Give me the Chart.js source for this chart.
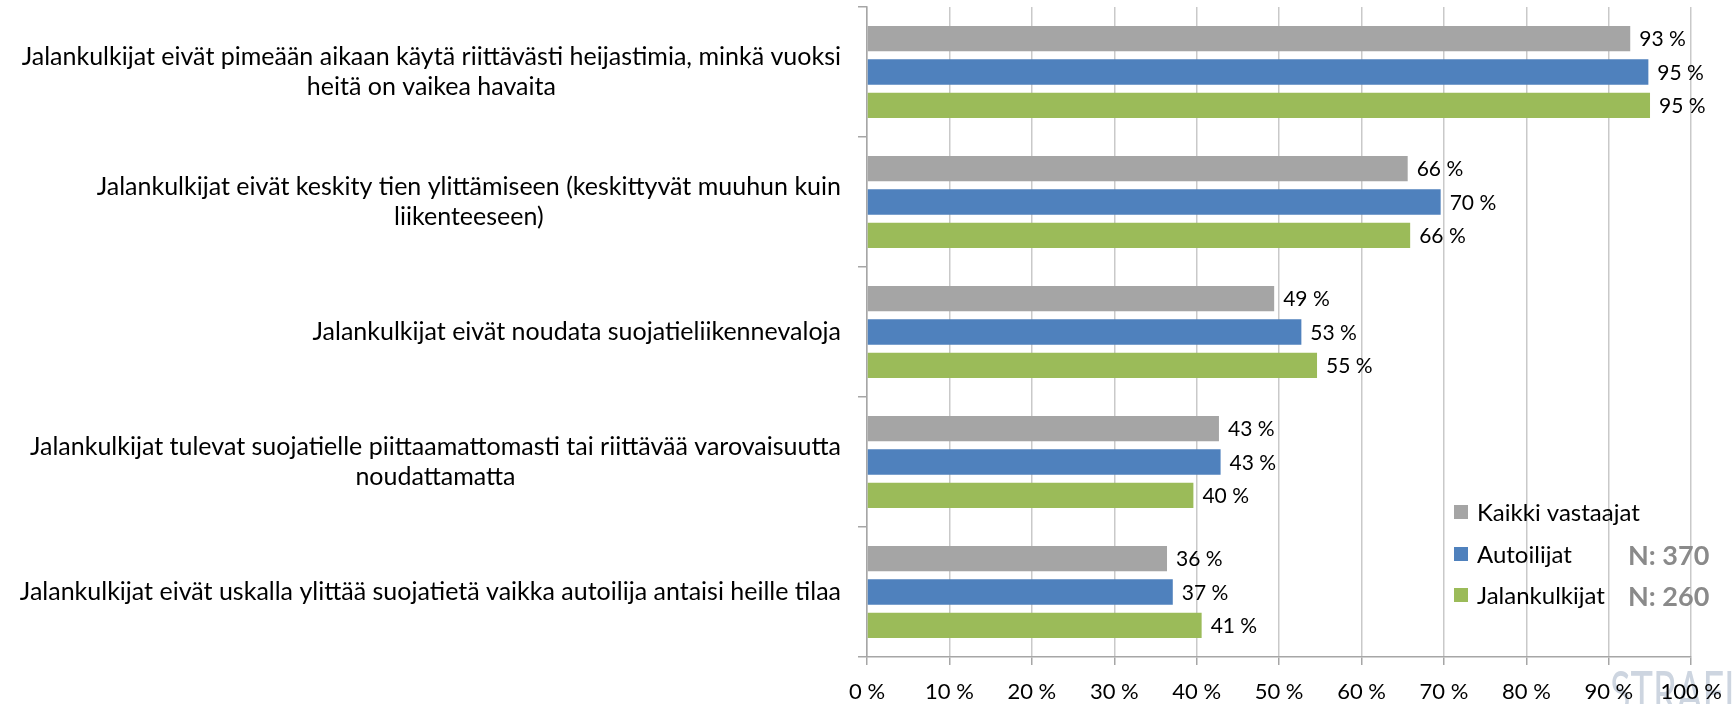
<!DOCTYPE html>
<html><head><meta charset="utf-8">
<script src="https://cdn.jsdelivr.net/npm/chart.js@4.4.1/dist/chart.umd.min.js"></script>
<style>html,body{margin:0;padding:0;background:#fff;}#wrap{width:1736px;height:704px;position:relative}</style>
</head><body><div id="wrap"><canvas id="c" width="1736" height="704"></canvas></div>
<script>
const categories = [
  ["Jalankulkijat eivät pimeään aikaan käytä riittävästi heijastimia, minkä vuoksi", "heitä on vaikea havaita"],
  ["Jalankulkijat eivät keskity tien ylittämiseen (keskittyvät muuhun kuin", "liikenteeseen)"],
  ["Jalankulkijat eivät noudata suojatieliikennevaloja"],
  ["Jalankulkijat tulevat suojatielle piittaamattomasti tai riittävää varovaisuutta", "noudattamatta"],
  ["Jalankulkijat eivät uskalla ylittää suojatietä vaikka autoilija antaisi heille tilaa"]
];
const seriesNames = ["Kaikki vastaajat", "Autoilijat", "Jalankulkijat"];
const kaikkiVastaajat = [92.6, 65.6, 49.4, 42.7, 36.4];
const autoilijat = [94.8, 69.6, 52.7, 42.9, 37.1];
const jalankulkijat = [95.0, 65.9, 54.6, 39.6, 40.6];
const sampleSizes = ["", "N: 370", "N: 260"];
const xTickValues = [0, 10, 20, 30, 40, 50, 60, 70, 80, 90, 100];
const watermarkText = "STRAFIC";

const colors = ["#a5a5a5", "#4f81bd", "#9bbb59"];
const FONT = "Lato, 'Open Sans', sans-serif";

const labelPlugin = {
  id: 'customText',
  beforeDraw(chart) {
    const ctx = chart.ctx;
    ctx.save();
    ctx.fillStyle = '#fff';
    ctx.fillRect(0, 0, chart.width, chart.height);
    ctx.font = '58px ' + FONT;
    ctx.fillStyle = '#cdd5e0';
    ctx.textAlign = 'left';
    ctx.textBaseline = 'alphabetic';
    const w = ctx.measureText(watermarkText).width;
    const sx = 150 / w;
    ctx.translate(1610, 713);
    ctx.scale(sx, 1);
    ctx.fillText(watermarkText, 0, 0);
    ctx.restore();
  },
  afterDraw(chart) {
    const ctx = chart.ctx;
    const ys = chart.scales.y;
    ctx.save();
    // category labels
    ctx.font = '25px ' + FONT;
    ctx.fillStyle = '#000';
    ctx.textAlign = 'center';
    ctx.textBaseline = 'middle';
    const labelRight = ys.right - 26;
    const lh = 30;
    categories.forEach((lines, i) => {
      const cy = ys.getPixelForValue(i);
      const w = Math.max(...lines.map(l => ctx.measureText(l).width));
      const cx = labelRight - w / 2;
      lines.forEach((l, j) => ctx.fillText(l, cx, cy + (j - (lines.length - 1) / 2) * lh));
    });
    // value labels
    ctx.font = '21px ' + FONT;
    ctx.textAlign = 'left';
    chart.data.datasets.forEach((ds, di) => {
      const meta = chart.getDatasetMeta(di);
      meta.data.forEach((el, i) => {
        ctx.fillText(Math.round(ds.data[i]) + ' %', el.x + 9, el.y + 1);
      });
    });
    // legend
    const legX = 1454, legY = [512, 554, 595];
    chart.data.datasets.forEach((ds, di) => {
      ctx.fillStyle = ds.backgroundColor;
      ctx.fillRect(legX, legY[di] - 7, 14, 14);
      ctx.fillStyle = '#000';
      ctx.font = '24px ' + FONT;
      ctx.textAlign = 'left';
      ctx.fillText(ds.label, legX + 23, legY[di] + 1);
      if (sampleSizes[di]) {
        ctx.font = 'bold 27px ' + FONT;
        ctx.fillStyle = '#8a8a8a';
        ctx.fillText(sampleSizes[di], 1628, legY[di] + 2);
      }
    });
    ctx.restore();
  }
};

new Chart(document.getElementById('c'), {
  type: 'bar',
  data: {
    labels: categories.map(c => c.join(' ')),
    datasets: [
      { label: seriesNames[0], data: kaikkiVastaajat, backgroundColor: colors[0] },
      { label: seriesNames[1], data: autoilijat, backgroundColor: colors[1] },
      { label: seriesNames[2], data: jalankulkijat, backgroundColor: colors[2] }
    ]
  },
  options: {
    indexAxis: 'y',
    responsive: false,
    devicePixelRatio: 1,
    animation: false,
    categoryPercentage: 0.77,
    barPercentage: 0.76,
    layout: { padding: { top: 7, right: 32, left: 0, bottom: 0 } },
    plugins: { legend: { display: false }, tooltip: { enabled: false } },
    scales: {
      x: {
        min: 0, max: 100,
        afterBuildTicks(scale) { scale.ticks = xTickValues.map(v => ({ value: v })); },
        afterFit(scale) { scale.height = 47; },
        ticks: {
          callback: v => v + ' %',
          font: { family: FONT, size: 22 },
          color: '#000',
          padding: 14,
          maxRotation: 0,
          autoSkip: false
        },
        grid: { color: '#c9c9c9', lineWidth: 1.5, tickColor: '#a6a6a6', tickLength: 8 },
        border: { color: '#a6a6a6', width: 1.5 }
      },
      y: {
        type: 'category',
        offset: true,
        afterFit(scale) { scale.width = 867; },
        ticks: { display: false },
        grid: { drawOnChartArea: false, offset: true, tickLength: 9, tickColor: '#a6a6a6', lineWidth: 1.5 },
        border: { color: '#a6a6a6', width: 1.5 }
      }
    }
  },
  plugins: [labelPlugin]
});
</script>
</body></html>
